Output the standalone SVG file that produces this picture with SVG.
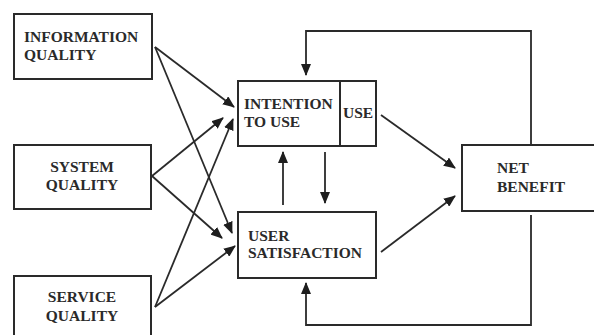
<svg xmlns="http://www.w3.org/2000/svg" width="594" height="335" viewBox="0 0 594 335">
<style>
.box{fill:#fff;stroke:#2a2a2a;stroke-width:2}
.t{font-family:"Liberation Serif","Times New Roman",serif;font-weight:bold;font-size:15.5px;fill:#2a2a2a}
.c{text-anchor:middle}
.ln{fill:none;stroke:#2a2a2a;stroke-width:1.8}
.ar{marker-end:url(#ah)}
</style>
<defs>
<marker id="ah" viewBox="0 0 12 10" refX="11" refY="5" markerWidth="12" markerHeight="10" markerUnits="userSpaceOnUse" orient="auto">
<path d="M0,0 L12,5 L0,10 z" fill="#1e1e1e"/>
</marker>
</defs>
<rect width="594" height="335" fill="#fff"/>
<g id="connectors">
<line class="ln ar" x1="155" y1="47" x2="234" y2="107"/>
<line class="ln ar" x1="155" y1="47" x2="232" y2="233"/>
<line class="ln ar" x1="152" y1="176" x2="223" y2="118"/>
<line class="ln ar" x1="152" y1="176" x2="222" y2="238"/>
<line class="ln ar" x1="155" y1="307" x2="233" y2="119"/>
<line class="ln ar" x1="155" y1="307" x2="235" y2="246"/>
<line class="ln ar" x1="381" y1="115" x2="455" y2="168"/>
<line class="ln ar" x1="381" y1="252" x2="455" y2="196"/>
<line class="ln ar" x1="283" y1="205" x2="283" y2="152"/>
<line class="ln ar" x1="325" y1="152" x2="325" y2="203"/>
<polyline class="ln ar" points="531,145 531,31 306,31 306,75"/>
<polyline class="ln ar" points="531,215 531,325 306,325 306,283"/>
</g>
<g id="information-quality">
<rect class="box" x="14" y="14" width="138" height="65"/>
<text class="t" x="24" y="42">INFORMATION</text>
<text class="t" x="24" y="60">QUALITY</text>
</g>
<g id="system-quality">
<rect class="box" x="14" y="145" width="137" height="64"/>
<text class="t c" x="82" y="172">SYSTEM</text>
<text class="t c" x="82" y="190">QUALITY</text>
</g>
<g id="service-quality">
<rect class="box" x="14" y="276" width="137" height="70"/>
<text class="t c" x="82" y="302">SERVICE</text>
<text class="t c" x="82" y="321">QUALITY</text>
</g>
<g id="intention-to-use">
<rect class="box" x="238" y="81" width="138" height="65"/>
<line class="ln" x1="340" y1="81" x2="340" y2="146" style="stroke-width:2"/>
<text class="t" x="244" y="109">INTENTION</text>
<text class="t" x="244" y="127">TO USE</text>
<text class="t" x="343" y="118">USE</text>
</g>
<g id="user-satisfaction">
<rect class="box" x="238" y="212" width="138" height="66"/>
<text class="t" x="248" y="241">USER</text>
<text class="t" x="248" y="258">SATISFACTION</text>
</g>
<g id="net-benefit">
<rect class="box" x="462" y="145" width="140" height="66"/>
<text class="t" x="497" y="173">NET</text>
<text class="t" x="497" y="192">BENEFIT</text>
</g>
</svg>
